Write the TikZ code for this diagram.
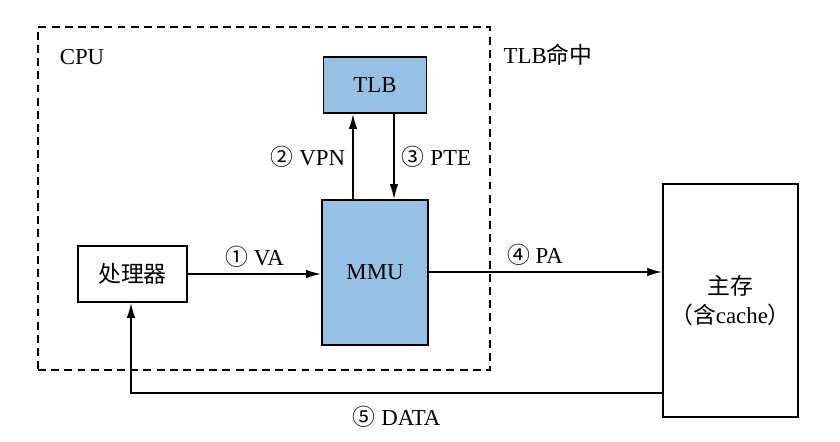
\documentclass[tikz,border=0pt]{standalone}
\usepackage{fontspec}
\setmainfont{Liberation Serif}
\newfontfamily\cjk{Noto Sans CJK SC}
\usepackage{tikz}
\usetikzlibrary{arrows.meta, positioning, calc}
\definecolor{unitblue}{RGB}{150,192,228}

\begin{document}
\begin{tikzpicture}[
  x=0.02cm, y=-0.02cm,
  font=\fontsize{13pt}{15pt}\selectfont,
  unit/.style={rectangle, draw=black, fill=unitblue, line width=1pt,
               inner sep=0pt},
  plain/.style={rectangle, draw=black, fill=white, line width=1pt,
                inner sep=0pt, align=center},
  frame/.style={rectangle, draw=black, dashed, dash pattern=on 4.5pt off 3pt,
                line width=1pt, inner sep=0pt},
  arr/.style={-{Latex[length=3mm, width=1.7mm]}, line width=0.9pt},
  lbl/.style={inner sep=1pt},
]
\useasboundingbox (0,0) rectangle (840,442);

% CPU frame
\node[frame, minimum width=452*0.02cm, minimum height=343*0.02cm] (cpu) at (264,198.5) {};
\node[lbl] (cpulbl) at (82,57) {CPU};
\node[lbl] (hitlbl) at (548,55) {TLB{\cjk 命中}};

% Units inside the CPU
\node[unit, minimum width=103*0.02cm, minimum height=56*0.02cm] (tlb) at (375,85) {TLB};
\node[unit, minimum width=106*0.02cm, minimum height=145*0.02cm] (mmu) at (375,272.5) {MMU};
\node[plain, minimum width=109*0.02cm, minimum height=56*0.02cm] (proc) at (132.5,274) {\cjk 处理器};

% Main memory
\node[plain, minimum width=135*0.02cm, minimum height=233*0.02cm] (mem) at (730.5,300.5)
  {{\cjk 主存}\\[2pt]{\cjk （含}cache{\cjk ）}};

% Flows
\draw[arr] (proc.east |- 0,274) -- node[lbl, above=2pt] {{\cjk ①} VA} (mmu.west |- 0,274);
\draw[arr] ($(mmu.north)+(-22,0)$) -- node[lbl, left=3pt] {{\cjk ②} VPN} ($(tlb.south)+(-22,0)$);
\draw[arr] ($(tlb.south)+(19,0)$) -- node[lbl, right=3pt] {{\cjk ③} PTE} ($(mmu.north)+(19,0)$);
\draw[arr] (mmu.east |- 0,272) -- node[lbl, above=2pt, xshift=-6pt] {{\cjk ④} PA} (mem.west |- 0,272);
\coordinate (dataturn) at (131,393);
\draw[arr] (mem.west |- dataturn) -- node[lbl, below=6pt] {{\cjk ⑤} DATA} (dataturn) -- (proc.south -| dataturn);

\end{tikzpicture}
\end{document}
